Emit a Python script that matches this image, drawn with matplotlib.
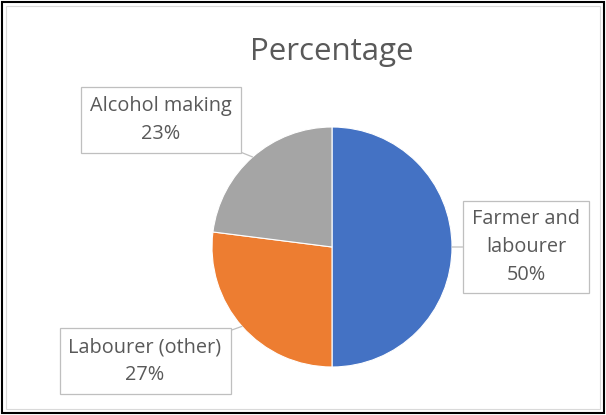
import numpy as np
import matplotlib.pyplot as plt
from matplotlib.patches import Rectangle

# data
labels = ["Farmer and\nlabourer", "Labourer (other)", "Alcohol making"]
values = [50, 27, 23]
colors = ["#4472C4", "#ED7D31", "#A5A5A5"]

plt.rcParams['font.family'] = ['Open Sans', 'DejaVu Sans']

fig = plt.figure(figsize=(6.06, 4.15), dpi=100)
ax = fig.add_axes([0, 0, 1, 1])

W, H = 606, 415
cx, cy, r = 332, H - 247, 120

wedges, _ = ax.pie(values, colors=colors, startangle=90, counterclock=False,
                   center=(cx, cy), radius=r,
                   wedgeprops=dict(edgecolor="white", linewidth=0.8))
ax.set_xlim(0, W)
ax.set_ylim(0, H)
ax.set_aspect("equal")
ax.axis("off")

ax.text(cx, H - 52, "Percentage", ha="center", va="center",
        fontsize=22.5, color="#595959")

# label boxes (centre of box in pixel coords, from top)
box_pos = [(526, 247), (145, 361), (161, 120)]
total = sum(values)
for w, lab, v, (bx, by) in zip(wedges, labels, values, box_pos):
    ang = np.deg2rad((w.theta1 + w.theta2) / 2)
    ex = cx + r * np.cos(ang)
    ey = cy + r * np.sin(ang)
    ax.annotate(f"{lab}\n{round(v / total * 100)}%", xy=(ex, ey),
                xytext=(bx, H - by), ha="center", va="center",
                fontsize=14.3, color="#595959", linespacing=1.5,
                bbox=dict(boxstyle="square,pad=0.45", fc="white",
                          ec="#BFBFBF", lw=0.9),
                arrowprops=dict(arrowstyle="-", color="#BFBFBF", lw=0.9,
                                shrinkA=0, shrinkB=0))

# chart border
ax.add_patch(Rectangle((2, 2), W - 4, H - 4, fill=False, ec="black", lw=1.5))
ax.add_patch(Rectangle((6, 6), W - 12, H - 12, fill=False, ec="#D9D9D9", lw=0.8))

fig.savefig("out.png", dpi=100)
